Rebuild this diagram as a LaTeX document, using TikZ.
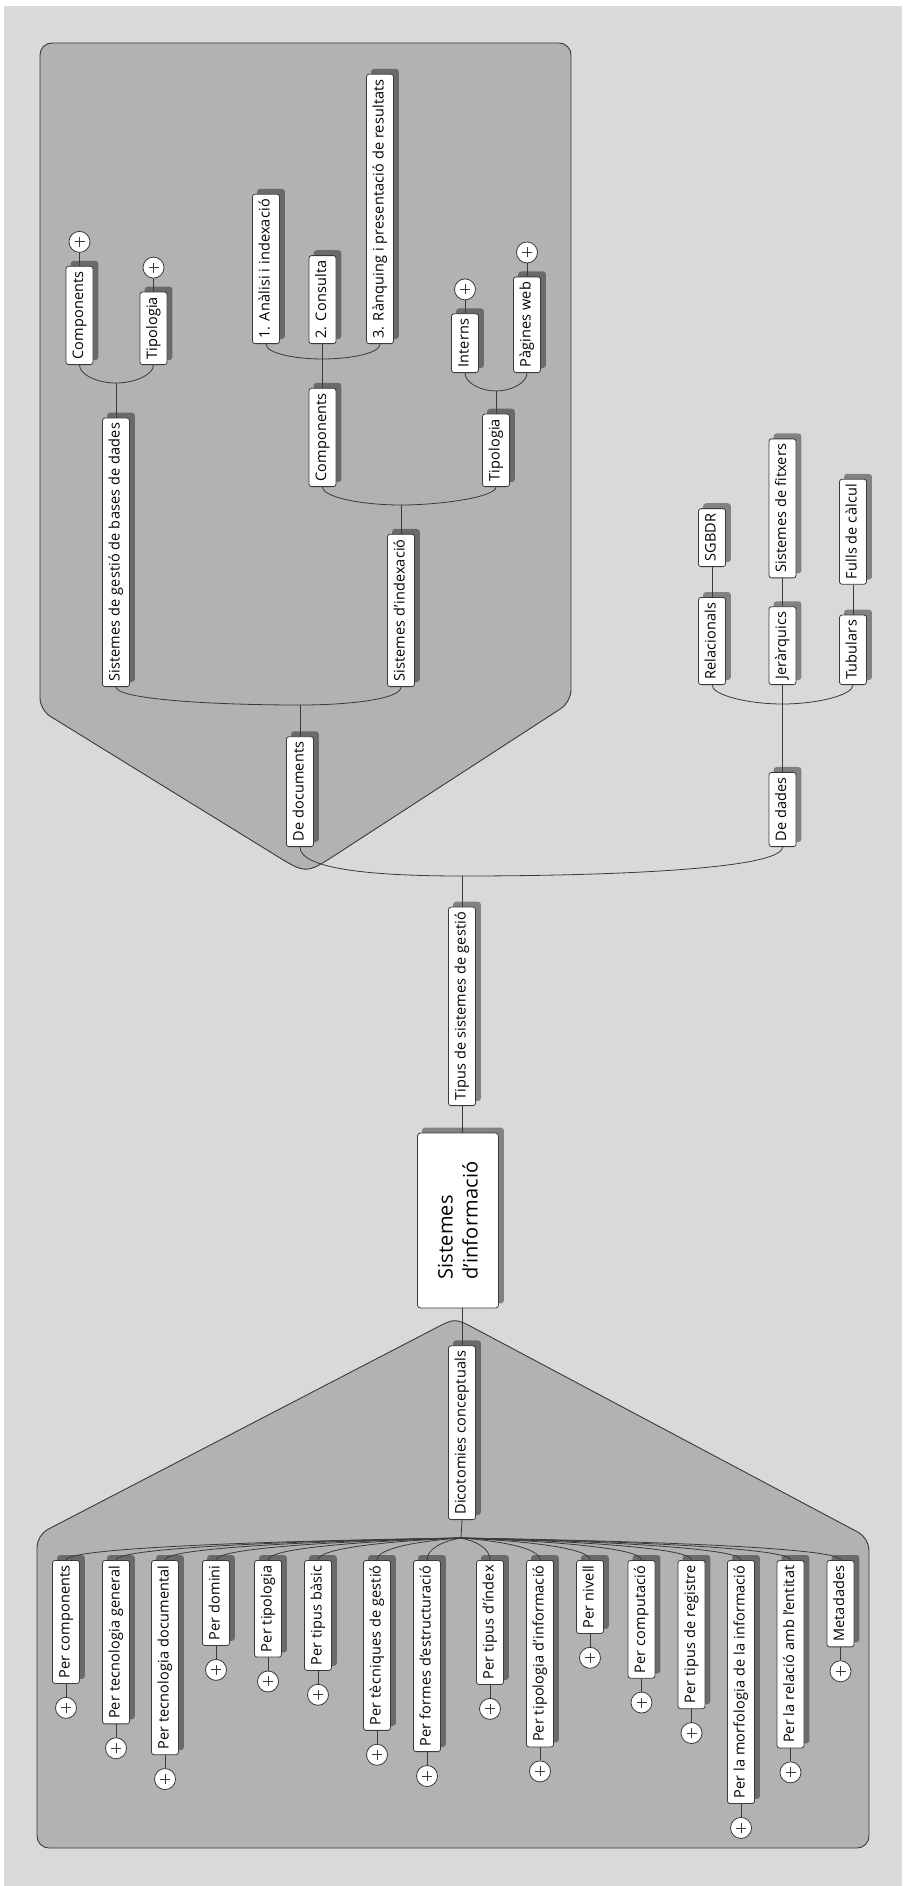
\documentclass[tikz,border=0pt]{standalone}
\usepackage{fontspec}
\setmainfont{Open Sans}[LetterSpace=1]
\usetikzlibrary{calc}
\pgfdeclarelayer{bglayer}
\pgfdeclarelayer{groups}
\pgfdeclarelayer{shadows}
\pgfsetlayers{bglayer,groups,shadows,main}
\definecolor{bgc}{HTML}{D9D9D9}
\definecolor{grpc}{HTML}{B2B2B2}
\definecolor{edgec}{HTML}{3A3A3A}
\tikzset{
  mm/.style={draw=edgec, fill=white, rounded corners=2.5pt, rotate=90,
    minimum height=27pt, inner xsep=5pt, inner ysep=0pt,
    text height=10.8pt, text depth=3.6pt,
    font=\fontsize{14.5}{17}\selectfont, line width=0.8pt},
  mmb/.style={mm, anchor=west},
  mmt/.style={mm, anchor=east},
  plusc/.style={circle, draw=edgec, fill=white, minimum size=21pt, inner sep=0pt, line width=0.8pt,
    path picture={\draw[edgec, line width=0.9pt]
      ([xshift=-5pt]path picture bounding box.center) -- ([xshift=5pt]path picture bounding box.center)
      ([yshift=-5pt]path picture bounding box.center) -- ([yshift=5pt]path picture bounding box.center);}},
  conn/.style={draw=edgec, line width=0.8pt},
  grp/.style={fill=grpc, draw=edgec, line width=0.9pt, rounded corners=12pt},
  shd/.style={fill=black, fill opacity=0.4, rounded corners=3pt},
}
\begin{document}
\begin{tikzpicture}[x=1pt, y=-1pt]
\useasboundingbox (0,0) rectangle (902,1886);
\begin{pgfonlayer}{bglayer}
  \fill[white] (0,0) rectangle (902,1886);
  \fill[bgc] (4,6) rectangle (902,1886);
\end{pgfonlayer}

% ---------- group boxes ----------
\coordinate (tT) at (306,874);
\coordinate (lT) at (40,710);
\coordinate (rT) at (571,702);
\coordinate (tB) at (455,1318);
\coordinate (lB) at (37,1535);
\coordinate (rB) at (869,1538);
\begin{pgfonlayer}{groups}
  \path[grp] (300,43) -- (571,43) -- (rT) -- ($(tT)!48pt!(rT)$) .. controls (tT) .. ($(tT)!48pt!(lT)$) -- (lT) -- (40,43) -- cycle;
  \path[grp] (37,1700) -- (lB) -- ($(tB)!35pt!(lB)$) .. controls (tB) .. ($(tB)!35pt!(rB)$) -- (rB) -- (869,1848) -- (37,1848) -- cycle;
\end{pgfonlayer}

% ---------- central node ----------
\node[draw=edgec, fill=white, rounded corners=3pt, rotate=90, minimum width=175pt, minimum height=81pt,
  align=left, inner sep=0pt, line width=0.8pt, font=\fontsize{20}{25}\selectfont] (root) at (458,1220.5) {Sistemes\\d’informació};

% ---------- main branches ----------
\node[mmb] (tipus) at (462,1106) {Tipus de sistemes de gestió};
\node[mmb] (dico) at (462,1520) {Dicotomies conceptuals};
\draw[conn] (tipus.west) -- (tipus.west |- root.east);
\draw[conn] (dico.east) -- (dico.east |- root.west);

% ---------- upper tree ----------
\node[mmb] (docs) at (300,847) {De documents};
\node[mmb] (dades) at (782.5,847) {De dades};
\node[mmb] (sgbd) at (116,687) {Sistemes de gestió de bases de dades};
\node[mmb] (idx) at (401,687) {Sistemes d’indexació};
\node[mmb] (comp1) at (79.5,365) {Components};
\node[mmb] (tip1) at (153.5,365) {Tipologia};
\node[mmb] (comp2) at (322.5,487) {Components};
\node[mmb] (tip2) at (496,487) {Tipologia};
\node[mmb] (a1) at (266,344) {1. Anàlisi i indexació};
\node[mmb] (a2) at (322.5,344) {2. Consulta};
\node[mmb] (a3) at (380,344) {3. Rànquing i presentació de resultats};
\node[mmb] (int) at (465,373) {Interns};
\node[mmb] (pw) at (527,373) {Pàgines web};
\node[mmb] (rel) at (712,685) {Relacionals};
\node[mmb] (jer) at (782.5,685) {Jeràrquics};
\node[mmb] (tub) at (853,685) {Tubulars};
\node[mmb] (sgbdr) at ($(rel.east)+(0,-30)$) {SGBDR};
\node[mmb] (fitx) at ($(jer.east)+(0,-28)$) {Sistemes de fitxers};
\node[mmb] (fulls) at ($(tub.east)+(0,-30)$) {Fulls de càlcul};

\node[plusc] (pc1) at ($(comp1.east)+(0,-24)$) {};
\node[plusc] (pt1) at ($(tip1.east)+(0,-24)$) {};
\node[plusc] (pint) at ($(int.east)+(0,-24)$) {};
\node[plusc] (ppw) at ($(pw.east)+(0,-24)$) {};
\draw[conn] (pc1.south) -- (comp1.east);
\draw[conn] (pt1.south) -- (tip1.east);
\draw[conn] (pint.south) -- (int.east);
\draw[conn] (ppw.south) -- (pw.east);

\coordinate (Jroot) at (462,876);
\coordinate (J1) at (116,383);
\coordinate (J2) at (322.5,359);
\coordinate (J3) at (496,391);
\coordinate (J4) at (401,505);
\coordinate (J5) at (300,705);
\coordinate (J6) at (782.5,704);

\draw[conn] (docs.west) .. controls +(0,22) and +(-90,0) .. (Jroot);
\draw[conn] (dades.west) .. controls +(0,22) and +(150,0) .. (Jroot);
\draw[conn] (Jroot) -- (tipus.east);

\draw[conn] (sgbd.west) .. controls +(0,12) and +(-90,0) .. (J5);
\draw[conn] (idx.west) .. controls +(0,12) and +(50,0) .. (J5);
\draw[conn] (J5) -- (docs.east);

\draw[conn] (comp1.west) .. controls +(0,10) and +(-18,0) .. (J1);
\draw[conn] (tip1.west) .. controls +(0,10) and +(18,0) .. (J1);
\draw[conn] (J1) -- (sgbd.east);

\draw[conn] (comp2.west) .. controls +(0,10) and +(-40,0) .. (J4);
\draw[conn] (tip2.west) .. controls +(0,10) and +(40,0) .. (J4);
\draw[conn] (J4) -- (idx.east);

\draw[conn] (a1.west) .. controls +(0,10) and +(-25,0) .. (J2);
\draw[conn] (a3.west) .. controls +(0,10) and +(25,0) .. (J2);
\draw[conn] (a2.west) -- (comp2.east);

\draw[conn] (int.west) .. controls +(0,10) and +(-15,0) .. (J3);
\draw[conn] (pw.west) .. controls +(0,10) and +(15,0) .. (J3);
\draw[conn] (J3) -- (tip2.east);

\draw[conn] (rel.west) .. controls +(0,10) and +(-35,0) .. (J6);
\draw[conn] (tub.west) .. controls +(0,10) and +(35,0) .. (J6);
\draw[conn] (jer.west) -- (dades.east);
\draw[conn] (sgbdr.west) -- (rel.east);
\draw[conn] (fitx.west) -- (jer.east);
\draw[conn] (fulls.west) -- (tub.east);

\begin{pgfonlayer}{shadows}
\foreach \n in {root,tipus,dico,docs,dades,sgbd,idx,comp1,tip1,comp2,tip2,a1,a2,a3,int,pw,rel,jer,tub,sgbdr,fitx,fulls}{
  \fill[shd] ([shift={(5,-5)}]\n.north west) rectangle ([shift={(5,-5)}]\n.south east);
}
\end{pgfonlayer}

% ---------- lower tree ----------
\coordinate (Jb) at (461,1538);
\draw[conn] (dico.west) -- (Jb);
\foreach \i/\cx/\t in {1/66/Per components, 2/116/Per tecnologia general, 3/165/Per tecnologia documental,
  4/216/Per domini, 5/268/Per tipologia, 6/318/Per tipus bàsic, 7/377/Per tècniques de gestió,
  8/427/Per formes d’estructuració, 9/490/Per tipus d’índex, 10/540/Per tipologia d’informació,
  11/590/Per nivell, 12/641.5/Per computació, 13/691.5/Per tipus de registre,
  14/741/Per la morfologia de la informació, 15/790.5/Per la relació amb l’entitat, 16/840.5/Metadades}{
  \node[mmt] (b\i) at (\cx,1560) {\t};
  \node[plusc] (pb\i) at ($(b\i.west)+(0,24)$) {};
  \draw[conn] (b\i.west) -- (pb\i.north);
  \draw[conn] (Jb) .. controls ({(461+\cx)/2},1541) and (\cx,1548) .. (b\i.east);
  \begin{pgfonlayer}{shadows}
    \fill[shd] ([shift={(5,-5)}]b\i.north west) rectangle ([shift={(5,-5)}]b\i.south east);
  \end{pgfonlayer}
}
\end{tikzpicture}
\end{document}
